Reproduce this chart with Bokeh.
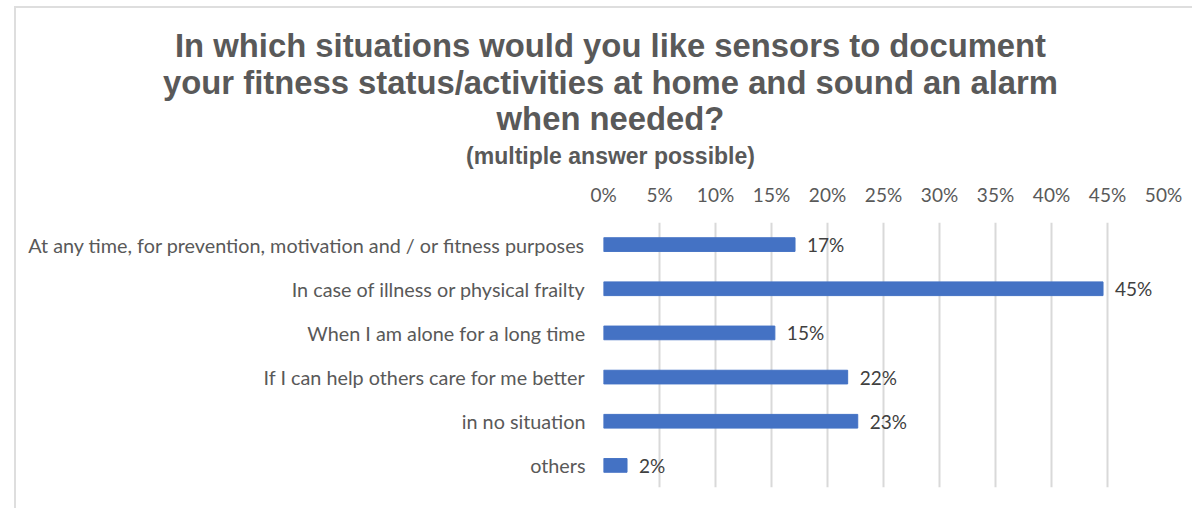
from bokeh.plotting import figure
from bokeh.layouts import column
from bokeh.models import (FactorRange, Range1d, ColumnDataSource,
                          NumeralTickFormatter, FixedTicker)
from bokeh.embed import file_html
from bokeh.resources import INLINE
from bokeh.core.properties import value

categories = [
    "At any time, for prevention, motivation and / or fitness purposes",
    "In case of illness or physical frailty",
    "When I am alone for a long time",
    "If I can help others care for me better",
    "in no situation",
    "others",
]
shares = [0.171, 0.446, 0.153, 0.218, 0.227, 0.021]
labels = [f"{round(v * 100)}%" for v in shares]
x_ticks = [0, 0.05, 0.10, 0.15, 0.20, 0.25, 0.30, 0.35, 0.40, 0.45, 0.50]
title_lines = [
    "In which situations would you like sensors to document",
    "your fitness status/activities at home and sound an alarm",
    "when needed?",
]
subtitle = "(multiple answer possible)"

TXT = "#595959"
W, H_TOP, H_BOT = 1192, 175, 333

# ---- title block (pixel-coordinate canvas) ----
t = figure(width=W, height=H_TOP, x_range=Range1d(0, W), y_range=Range1d(H_TOP, 0),
           output_backend="svg", toolbar_location=None, min_border=0)
t.axis.visible = False
t.grid.visible = False
t.outline_line_color = None
t.background_fill_color = None
t.border_fill_color = None
tsrc = ColumnDataSource(dict(
    text=title_lines + [subtitle],
    x=[610, 610, 610, 610],
    y=[45, 82, 118, 155],
    size=["32.8px", "32.8px", "32.8px", "23px"],
))
t.text(x="x", y="y", text="text", text_font_size="size", source=tsrc,
       text_align="center", text_baseline="middle",
       text_font=value("Liberation Sans"), text_font_style="bold", text_color=TXT)

# ---- bar chart ----
source = ColumnDataSource(dict(cat=categories, val=shares, lab=labels))
p = figure(
    width=W, height=H_BOT,
    y_range=FactorRange(*list(reversed(categories))),
    x_range=Range1d(0, 0.5),
    x_axis_location="above",
    output_backend="svg", toolbar_location=None,
    min_border_left=603, min_border_right=29, min_border_bottom=21, min_border_top=47,
)
p.hbar(y="cat", right="val", left=0, height=0.31, color="#4472C4", source=source)
p.text(x="val", y="cat", text="lab", source=source, x_offset=12,
       text_baseline="middle", text_align="left", text_font=value("Lato"),
       text_font_size="19px", text_color="#404040")

p.xaxis.ticker = FixedTicker(ticks=x_ticks)
p.xaxis.formatter = NumeralTickFormatter(format="0%")
for ax in (p.xaxis[0], p.yaxis[0]):
    ax.axis_line_color = None
    ax.major_tick_line_color = None
    ax.minor_tick_line_color = None
    ax.major_tick_out = 0
    ax.major_tick_in = 0
    ax.major_label_text_font = "Lato"
    ax.major_label_text_color = TXT
p.xaxis.major_label_text_font_size = "19px"
p.yaxis.major_label_text_font_size = "19.8px"
p.xaxis.major_label_standoff = 17
p.yaxis.major_label_standoff = 18

p.xgrid.grid_line_color = "#d9d9d9"
p.xgrid.grid_line_width = 2
p.xgrid.ticker = FixedTicker(ticks=x_ticks)
p.ygrid.grid_line_color = None
p.outline_line_color = None
p.border_fill_color = None
p.background_fill_color = None

# keep the title canvas independent of the bar chart's frame
for fig in (t, p):
    if "frame_align" in fig.properties():
        fig.frame_align = False

layout = column(t, p, spacing=0)
# thin light-grey frame lines at the top and left, drawn as a page background
layout.styles = {
    "background": "linear-gradient(#dedede,#dedede) 14px 6px / 100% 2px no-repeat, "
                  "linear-gradient(#dedede,#dedede) 14px 6px / 2px 100% no-repeat, white"
}

open("out.html", "w").write(file_html(layout, INLINE))
